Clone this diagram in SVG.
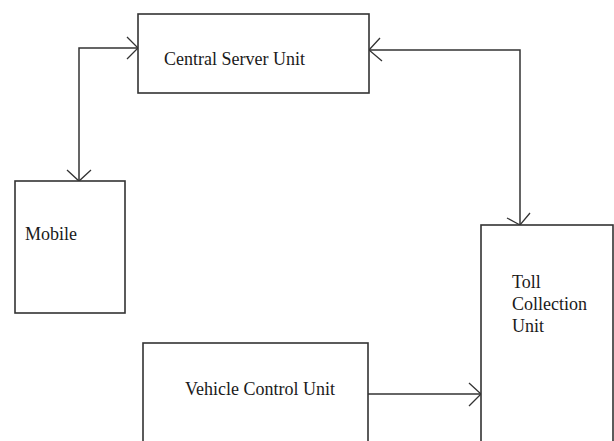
<svg xmlns="http://www.w3.org/2000/svg" width="614" height="441" viewBox="0 0 614 441">
<style>
.box{fill:#fff;stroke:#333;stroke-width:1.6}
.ln{fill:none;stroke:#333;stroke-width:1.5}
.ah{fill:none;stroke:#333;stroke-width:1.3}
.t{font-family:'Liberation Serif','Times New Roman',Times,serif;font-size:18px;fill:#1a1a1a}
</style>
<rect width="614" height="441" fill="#fff"/>
<g id="connectors">
<path class="ln" d="M138,48 H79 V181"/>
<polyline class="ah" points="127,37 138,48 127,59"/>
<polyline class="ah" points="67,170 79,181 91,170"/>
<path class="ln" d="M369,50 H520 V225"/>
<polyline class="ah" points="380,38 369,50 382,61"/>
<polyline class="ah" points="507,218 520,225 530,213"/>
<path class="ln" d="M368,394 H481"/>
<polyline class="ah" points="469,383 481,394 469,406"/>
</g>
<g id="central-server">
<rect class="box" x="138" y="14" width="231" height="79"/>
<text class="t" font-family="Liberation Serif, serif" x="164" y="65">Central Server Unit</text>
</g>
<g id="mobile">
<rect class="box" x="15" y="181" width="110" height="132"/>
<text class="t" font-family="Liberation Serif, serif" x="25" y="240">Mobile</text>
</g>
<g id="toll">
<rect class="box" x="481" y="225" width="132" height="230"/>
<text class="t" font-family="Liberation Serif, serif" x="512" y="288">Toll</text>
<text class="t" font-family="Liberation Serif, serif" x="512" y="310">Collection</text>
<text class="t" font-family="Liberation Serif, serif" x="512" y="332">Unit</text>
</g>
<g id="vehicle">
<rect class="box" x="143" y="343" width="225" height="110"/>
<text class="t" font-family="Liberation Serif, serif" x="185" y="395">Vehicle Control Unit</text>
</g>
</svg>
